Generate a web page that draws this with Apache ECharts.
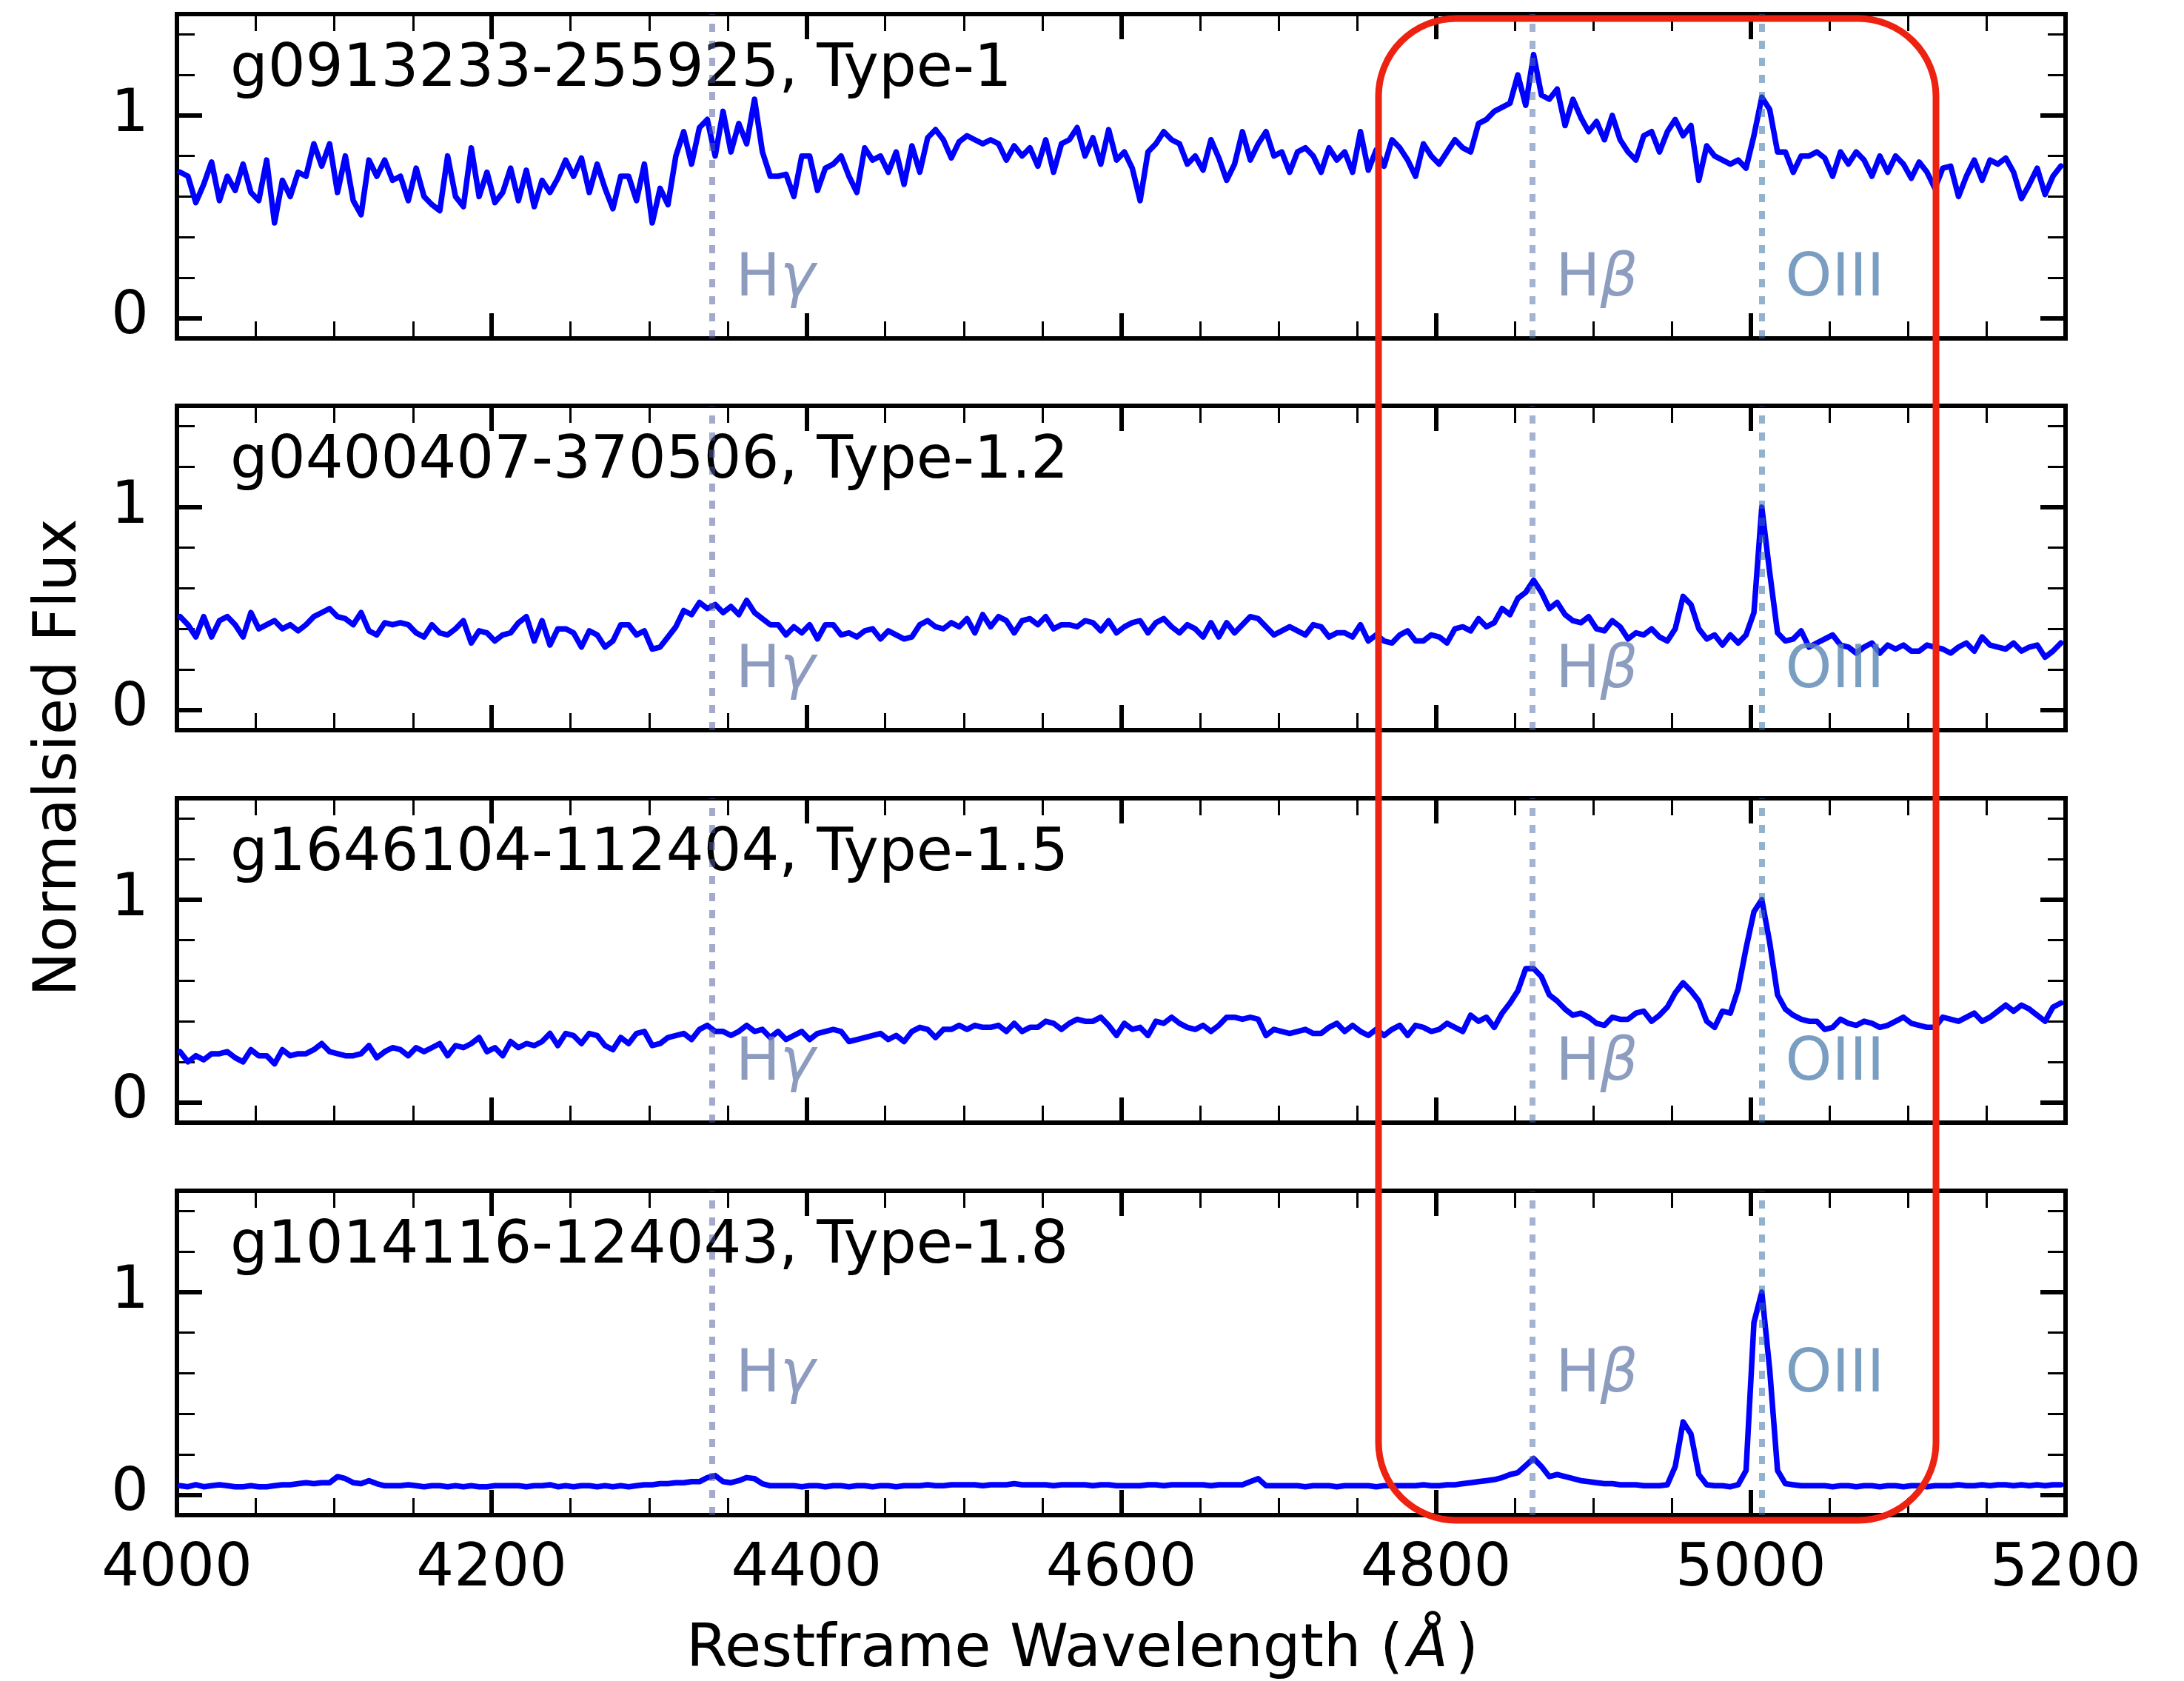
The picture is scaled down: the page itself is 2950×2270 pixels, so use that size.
<!DOCTYPE html>
<html>
<head>
<meta charset="utf-8">
<title>Normalised spectra</title>
<script src="https://cdn.jsdelivr.net/npm/echarts@6.0.0/dist/echarts.min.js"></script>
<style>
html, body { margin: 0; padding: 0; background: #fff; }
#chart { width: 2950px; height: 2270px; }
</style>
</head>
<body>
<div id="chart"></div>
<script>
// wavelength grid of the resampled spectra (Angstrom)
const wave = [];
for (let w = 4002; w <= 5197; w += 5) wave.push(w);

const titles = [
    'g0913233-255925, Type-1',
    'g0400407-370506, Type-1.2',
    'g1646104-112404, Type-1.5',
    'g1014116-124043, Type-1.8',
];

// normalised flux, one value per grid point
const flux1 = [
    0.72, 0.70, 0.57, 0.66, 0.77, 0.58, 0.70, 0.63, 0.76, 0.62,
    0.58, 0.78, 0.47, 0.68, 0.60, 0.72, 0.70, 0.86, 0.75, 0.86,
    0.62, 0.80, 0.58, 0.51, 0.78, 0.70, 0.78, 0.68, 0.70, 0.58,
    0.74, 0.60, 0.56, 0.53, 0.80, 0.60, 0.55, 0.84, 0.60, 0.72,
    0.57, 0.62, 0.74, 0.58, 0.73, 0.55, 0.68, 0.62, 0.69, 0.78,
    0.70, 0.79, 0.62, 0.76, 0.64, 0.54, 0.70, 0.70, 0.58, 0.76,
    0.47, 0.64, 0.56, 0.80, 0.92, 0.76, 0.94, 0.98, 0.80, 1.02,
    0.82, 0.96, 0.86, 1.08, 0.82, 0.70, 0.70, 0.71, 0.60, 0.80,
    0.80, 0.63, 0.74, 0.76, 0.80, 0.70, 0.62, 0.84, 0.78, 0.80,
    0.72, 0.82, 0.66, 0.85, 0.72, 0.89, 0.93, 0.88, 0.79, 0.87,
    0.90, 0.88, 0.86, 0.88, 0.86, 0.78, 0.85, 0.80, 0.84, 0.75,
    0.88, 0.72, 0.86, 0.88, 0.94, 0.80, 0.89, 0.76, 0.93, 0.78,
    0.82, 0.74, 0.58, 0.82, 0.86, 0.92, 0.88, 0.86, 0.76, 0.80,
    0.73, 0.88, 0.79, 0.68, 0.76, 0.92, 0.78, 0.86, 0.92, 0.80,
    0.82, 0.72, 0.82, 0.84, 0.80, 0.72, 0.84, 0.78, 0.82, 0.72,
    0.92, 0.73, 0.83, 0.75, 0.88, 0.84, 0.78, 0.70, 0.86, 0.80,
    0.76, 0.82, 0.88, 0.84, 0.82, 0.96, 0.98, 1.02, 1.04, 1.06,
    1.20, 1.05, 1.30, 1.10, 1.08, 1.13, 0.95, 1.08, 0.99, 0.92,
    0.97, 0.88, 1.00, 0.88, 0.82, 0.78, 0.90, 0.92, 0.82, 0.92,
    0.98, 0.90, 0.95, 0.68, 0.85, 0.80, 0.78, 0.76, 0.78, 0.74,
    0.90, 1.09, 1.03, 0.82, 0.82, 0.72, 0.80, 0.80, 0.82, 0.79,
    0.70, 0.82, 0.76, 0.82, 0.78, 0.70, 0.80, 0.72, 0.80, 0.76,
    0.69, 0.77, 0.72, 0.64, 0.74, 0.75, 0.60, 0.70, 0.78, 0.68,
    0.78, 0.76, 0.79, 0.72, 0.59, 0.66, 0.74, 0.61, 0.70, 0.75,
];

const flux2 = [
    0.46, 0.42, 0.36, 0.46, 0.36, 0.44, 0.46, 0.42, 0.36, 0.48,
    0.40, 0.42, 0.44, 0.40, 0.42, 0.39, 0.42, 0.46, 0.48, 0.50,
    0.46, 0.45, 0.42, 0.48, 0.39, 0.37, 0.43, 0.42, 0.43, 0.42,
    0.38, 0.36, 0.42, 0.38, 0.37, 0.40, 0.44, 0.33, 0.39, 0.38,
    0.34, 0.37, 0.38, 0.43, 0.46, 0.34, 0.44, 0.32, 0.40, 0.40,
    0.38, 0.31, 0.39, 0.37, 0.31, 0.34, 0.42, 0.42, 0.37, 0.39,
    0.30, 0.31, 0.36, 0.41, 0.49, 0.47, 0.53, 0.50, 0.52, 0.48,
    0.51, 0.47, 0.54, 0.48, 0.45, 0.42, 0.42, 0.37, 0.41, 0.38,
    0.42, 0.35, 0.42, 0.42, 0.37, 0.38, 0.36, 0.39, 0.40, 0.35,
    0.39, 0.37, 0.35, 0.36, 0.42, 0.44, 0.41, 0.40, 0.43, 0.41,
    0.45, 0.38, 0.47, 0.41, 0.46, 0.44, 0.38, 0.44, 0.45, 0.42,
    0.46, 0.40, 0.42, 0.42, 0.41, 0.44, 0.43, 0.39, 0.44, 0.38,
    0.41, 0.43, 0.44, 0.38, 0.43, 0.45, 0.41, 0.38, 0.42, 0.40,
    0.36, 0.43, 0.36, 0.43, 0.38, 0.42, 0.46, 0.45, 0.41, 0.37,
    0.39, 0.41, 0.39, 0.37, 0.42, 0.41, 0.36, 0.38, 0.38, 0.36,
    0.42, 0.34, 0.37, 0.34, 0.33, 0.37, 0.39, 0.34, 0.34, 0.37,
    0.36, 0.33, 0.40, 0.41, 0.39, 0.45, 0.41, 0.43, 0.50, 0.47,
    0.55, 0.58, 0.64, 0.58, 0.50, 0.53, 0.47, 0.44, 0.43, 0.46,
    0.40, 0.39, 0.44, 0.41, 0.35, 0.38, 0.37, 0.40, 0.36, 0.34,
    0.40, 0.56, 0.52, 0.40, 0.35, 0.37, 0.32, 0.37, 0.33, 0.37,
    0.48, 1.00, 0.68, 0.38, 0.34, 0.35, 0.39, 0.31, 0.33, 0.35,
    0.37, 0.32, 0.31, 0.28, 0.31, 0.33, 0.28, 0.32, 0.30, 0.32,
    0.29, 0.29, 0.32, 0.31, 0.30, 0.28, 0.31, 0.33, 0.29, 0.36,
    0.32, 0.31, 0.30, 0.33, 0.29, 0.31, 0.32, 0.26, 0.29, 0.33,
];

const flux3 = [
    0.25, 0.20, 0.23, 0.21, 0.24, 0.24, 0.25, 0.22, 0.20, 0.26,
    0.23, 0.23, 0.19, 0.26, 0.23, 0.24, 0.24, 0.26, 0.29, 0.25,
    0.24, 0.23, 0.23, 0.24, 0.28, 0.22, 0.25, 0.27, 0.26, 0.23,
    0.27, 0.25, 0.27, 0.29, 0.23, 0.28, 0.27, 0.29, 0.32, 0.25,
    0.27, 0.23, 0.30, 0.27, 0.29, 0.28, 0.30, 0.34, 0.28, 0.34,
    0.33, 0.29, 0.34, 0.33, 0.28, 0.26, 0.32, 0.29, 0.34, 0.35,
    0.28, 0.29, 0.32, 0.33, 0.34, 0.31, 0.36, 0.38, 0.35, 0.35,
    0.33, 0.35, 0.38, 0.35, 0.36, 0.32, 0.35, 0.31, 0.33, 0.35,
    0.31, 0.34, 0.35, 0.36, 0.35, 0.30, 0.31, 0.32, 0.33, 0.34,
    0.31, 0.33, 0.30, 0.35, 0.37, 0.36, 0.32, 0.36, 0.36, 0.38,
    0.36, 0.38, 0.37, 0.37, 0.38, 0.35, 0.39, 0.35, 0.37, 0.37,
    0.40, 0.39, 0.36, 0.39, 0.41, 0.40, 0.40, 0.42, 0.38, 0.33,
    0.39, 0.36, 0.37, 0.33, 0.40, 0.39, 0.42, 0.39, 0.37, 0.36,
    0.38, 0.35, 0.38, 0.42, 0.42, 0.41, 0.42, 0.41, 0.33, 0.36,
    0.35, 0.34, 0.35, 0.36, 0.34, 0.34, 0.37, 0.39, 0.35, 0.38,
    0.35, 0.33, 0.36, 0.33, 0.36, 0.38, 0.33, 0.38, 0.37, 0.35,
    0.36, 0.39, 0.37, 0.35, 0.43, 0.40, 0.42, 0.37, 0.44, 0.49,
    0.55, 0.66, 0.66, 0.62, 0.53, 0.50, 0.46, 0.43, 0.44, 0.42,
    0.39, 0.38, 0.42, 0.41, 0.41, 0.44, 0.45, 0.40, 0.43, 0.47,
    0.54, 0.59, 0.55, 0.50, 0.40, 0.37, 0.45, 0.44, 0.56, 0.76,
    0.94, 1.00, 0.79, 0.53, 0.46, 0.43, 0.41, 0.40, 0.40, 0.36,
    0.37, 0.41, 0.39, 0.38, 0.40, 0.39, 0.37, 0.38, 0.40, 0.42,
    0.39, 0.38, 0.37, 0.37, 0.42, 0.41, 0.40, 0.42, 0.44, 0.40,
    0.42, 0.45, 0.48, 0.45, 0.48, 0.46, 0.43, 0.40, 0.47, 0.49,
];

const flux4 = [
    0.045, 0.040, 0.050, 0.040, 0.045, 0.050, 0.045, 0.040, 0.040, 0.045,
    0.040, 0.040, 0.045, 0.050, 0.050, 0.055, 0.060, 0.055, 0.060, 0.060,
    0.090, 0.080, 0.060, 0.055, 0.070, 0.055, 0.045, 0.045, 0.045, 0.050,
    0.045, 0.040, 0.045, 0.045, 0.040, 0.045, 0.040, 0.045, 0.040, 0.040,
    0.045, 0.045, 0.045, 0.045, 0.040, 0.045, 0.045, 0.050, 0.040, 0.045,
    0.040, 0.045, 0.045, 0.040, 0.045, 0.040, 0.045, 0.040, 0.045, 0.050,
    0.050, 0.055, 0.055, 0.060, 0.060, 0.065, 0.065, 0.085, 0.095, 0.065,
    0.060, 0.070, 0.085, 0.080, 0.055, 0.045, 0.045, 0.045, 0.045, 0.040,
    0.045, 0.045, 0.040, 0.045, 0.045, 0.040, 0.045, 0.045, 0.040, 0.045,
    0.045, 0.040, 0.045, 0.045, 0.045, 0.050, 0.045, 0.045, 0.050, 0.050,
    0.050, 0.050, 0.045, 0.050, 0.050, 0.050, 0.055, 0.050, 0.050, 0.050,
    0.050, 0.045, 0.050, 0.050, 0.050, 0.050, 0.045, 0.050, 0.050, 0.045,
    0.045, 0.045, 0.045, 0.050, 0.050, 0.045, 0.050, 0.050, 0.050, 0.050,
    0.050, 0.045, 0.050, 0.050, 0.050, 0.050, 0.065, 0.080, 0.045, 0.045,
    0.045, 0.045, 0.045, 0.040, 0.045, 0.045, 0.045, 0.040, 0.045, 0.045,
    0.045, 0.045, 0.040, 0.045, 0.045, 0.045, 0.045, 0.045, 0.050, 0.045,
    0.045, 0.050, 0.050, 0.055, 0.060, 0.065, 0.070, 0.075, 0.085, 0.100,
    0.110, 0.145, 0.180, 0.140, 0.090, 0.100, 0.090, 0.080, 0.070, 0.065,
    0.060, 0.055, 0.055, 0.050, 0.050, 0.050, 0.045, 0.045, 0.045, 0.050,
    0.140, 0.360, 0.300, 0.100, 0.050, 0.045, 0.045, 0.040, 0.050, 0.120,
    0.850, 1.000, 0.620, 0.120, 0.055, 0.050, 0.045, 0.045, 0.045, 0.045,
    0.040, 0.045, 0.045, 0.040, 0.045, 0.045, 0.040, 0.045, 0.045, 0.040,
    0.045, 0.045, 0.040, 0.045, 0.045, 0.045, 0.050, 0.045, 0.045, 0.050,
    0.045, 0.050, 0.050, 0.045, 0.050, 0.045, 0.050, 0.045, 0.050, 0.050,
];

// emission lines: rest wavelength, label, line colour, text colour
const lineWave = [4340, 4861, 5007];
const lineNames = ['{a|H}{g|γ}', '{a|H}{g|β}', '{a|OIII}'];
const lineColors = ['rgba(80,90,160,0.52)', 'rgba(80,110,165,0.52)', 'rgba(50,105,165,0.52)'];
const textColors = ['#7082AE', '#7085B0', '#5886B1'];
const labelY = [0.1, 0.1, 0.1, 0.5];

const majorY = [0, 1];
const minorY = [0.2, 0.4, 0.6, 0.8, 1.2, 1.4];

const fluxes = [flux1, flux2, flux3, flux4];
const font = 'DejaVu Sans';
const tops = [19, 548, 1078, 1608];
const panelH = 438;
const spine = { show: true, onZero: false, lineStyle: { color: '#000', width: 6, cap: 'square' } };

const grids = [];
const xAxes = [];
const yAxes = [];
const series = [];
const graphics = [];

tops.forEach((top, g) => {
    grids.push({
        left: 239, width: 2551, top: top, height: panelH,
        outerBoundsMode: 'none',
    });

    ['bottom', 'top'].forEach(pos => {
        xAxes.push({
            type: 'value', gridIndex: g, position: pos,
            min: 4000, max: 5200, interval: 200,
            axisLine: spine,
            splitLine: { show: false },
            axisTick: { inside: true, length: 34, lineStyle: { color: '#000', width: 6 } },
            minorTick: { show: true, splitNumber: 4, length: 23, lineStyle: { color: '#000', width: 3 } },
            axisLabel: {
                show: pos === 'bottom' && g === 3,
                fontSize: 80, fontFamily: font, color: '#000', margin: 34,
                showMinLabel: true, showMaxLabel: true,
                formatter: v => String(v),
            },
        });
    });

    ['left', 'right'].forEach(pos => {
        [majorY, minorY].forEach((vals, k) => {
            yAxes.push({
                type: 'value', gridIndex: g, position: pos,
                min: -0.1, max: 1.5,
                axisLine: k === 0 ? spine : { show: false },
                splitLine: { show: false },
                axisTick: {
                    inside: true, customValues: vals,
                    length: k === 0 ? 34 : 24,
                    lineStyle: { color: '#000', width: k === 0 ? 6 : 3 },
                },
                axisLabel: {
                    show: pos === 'left' && k === 0,
                    customValues: vals,
                    fontSize: 80, fontFamily: font, color: '#000', margin: 38,
                    padding: [10, 0, 0, 0],
                },
            });
        });
    });

    series.push({
        type: 'line',
        xAxisIndex: 2 * g, yAxisIndex: 4 * g,
        data: wave.map((w, i) => [w, fluxes[g][i]]),
        showSymbol: false, symbol: 'none',
        lineStyle: { color: '#0000ff', width: 7.5, cap: 'round', join: 'round' },
        z: 3, silent: true,
    });

    series.push({
        type: 'scatter',
        xAxisIndex: 2 * g, yAxisIndex: 4 * g,
        symbolSize: 0,
        itemStyle: { color: 'rgba(0,0,0,0)' },
        silent: true, z: 4,
        data: lineWave.map((w, j) => ({
            value: [w + 15, labelY[g]],
            label: {
                show: true, position: [0, 0], offset: [0, -24],
                align: 'left', verticalAlign: 'middle',
                formatter: lineNames[j],
                rich: {
                    a: { fontSize: 80, fontFamily: font, color: textColors[j] },
                    g: { fontSize: 80, fontFamily: font, fontStyle: 'italic', color: textColors[j] },
                },
            },
        })),
        markLine: {
            silent: true, symbol: ['none', 'none'],
            label: { show: false },
            data: lineWave.map((w, j) => ({
                xAxis: w,
                lineStyle: { color: lineColors[j], width: 8, type: [11, 12], cap: 'butt' },
            })),
        },
    });

    graphics.push({
        type: 'text', x: 311, y: top + 76, silent: true,
        style: {
            text: titles[g], font: '80px "DejaVu Sans"', fill: '#000',
            align: 'left', verticalAlign: 'middle',
            textAlign: 'left', textVerticalAlign: 'middle',
        },
    });
});

graphics.push({
    type: 'text', x: 81, y: 1023, rotation: Math.PI / 2, silent: true,
    style: {
        text: 'Normalsied Flux', font: '80px "DejaVu Sans"', fill: '#000',
        align: 'center', verticalAlign: 'middle',
        textAlign: 'center', textVerticalAlign: 'middle',
    },
});

graphics.push({
    type: 'text', x: 927, y: 2229, silent: true,
    style: {
        text: '{n|Restframe Wavelength (}{i|Å}{n|)}',
        rich: {
            n: { fontSize: 80, fontFamily: font, fill: '#000', color: '#000' },
            i: { fontSize: 80, fontFamily: font, fontStyle: 'italic', fill: '#000', color: '#000', padding: [0, 10, 0, 6] },
        },
        font: '80px "DejaVu Sans"', fill: '#000',
        align: 'left', verticalAlign: 'middle',
        textAlign: 'left', textVerticalAlign: 'middle',
    },
});

// hand-drawn style highlight around the Hbeta / [OIII] region
graphics.push({
    type: 'rect', z: 100, silent: true,
    shape: { x: 1862, y: 25, width: 753, height: 2028, r: 105 },
    style: { fill: 'none', stroke: '#EE2211', lineWidth: 9 },
});

const option = {
    animation: false,
    backgroundColor: '#fff',
    grid: grids,
    xAxis: xAxes,
    yAxis: yAxes,
    series: series,
    graphic: { elements: graphics },
};

const chart = echarts.init(document.getElementById('chart'), null, { renderer: 'canvas' });
chart.setOption(option);
window.onresize = function () {
    chart.resize();
};
</script>
</body>
</html>
